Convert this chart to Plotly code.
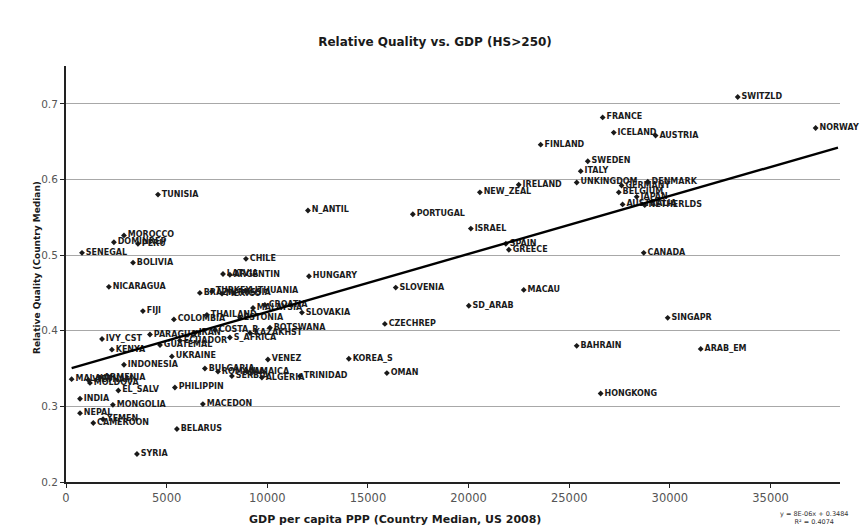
import plotly.graph_objects as go

# Country-level data: GDP per capita PPP (US$ 2008) and relative quality (HS>250)
countries = [
    "SWITZLD", "FRANCE", "ICELAND", "AUSTRIA", "NORWAY", "FINLAND", "SWEDEN", "ITALY",
    "IRELAND", "NEW_ZEAL", "UNKINGDOM", "GERMANY", "DENMARK", "BELGIUM", "JAPAN",
    "AUSTRALIA", "NETHERLDS", "CANADA", "SINGAPR", "BAHRAIN", "ARAB_EM", "HONGKONG",
    "N_ANTIL", "PORTUGAL", "ISRAEL", "SPAIN", "GREECE", "HUNGARY", "SLOVENIA", "MACAU",
    "SD_ARAB", "SLOVAKIA", "CZECHREP", "KOREA_S", "OMAN", "VENEZ", "MACEDON", "BELARUS",
    "SYRIA", "TUNISIA", "MOROCCO", "DOMINREP", "PERU", "SENEGAL", "BOLIVIA", "CHILE",
    "NICARAGUA", "FIJI", "COLOMBIA", "IVY_CST", "UKRAINE", "KENYA", "INDONESIA",
    "BULGARIA", "MALAWI", "VIETNAM", "MOLDOVA", "ARMENIA", "PHILIPPIN", "EL_SALV",
    "INDIA", "MONGOLIA", "NEPAL", "CAMEROON", "YEMEN", "LATVIA", "ARGENTIN", "BRAZIL",
    "TURKEY", "MEXICO", "RUSSIA", "LITHUANIA", "THAILAND", "MALAYSIA", "CROATIA",
    "ESTONIA", "IRAN", "COSTA_R", "S_AFRICA", "KAZAKHST", "BOTSWANA", "ECUADOR",
    "GUATEMAL", "PARAGUAY", "ROMANIA", "SERBIA", "JAMAICA", "ALGERIA", "TRINIDAD",
]
gdp = [
    33370, 26660, 27210, 29290, 37240, 23580, 25920, 25570,
    22490, 20560, 25370, 27600, 28900, 27460, 28350,
    27650, 28750, 28700, 29890, 25370, 31530, 26560,
    12020, 17230, 20110, 21850, 22000, 12070, 16380, 22740,
    20010, 11720, 15840, 14050, 15940, 10030, 6800, 5510,
    3525, 4570, 2880, 2380, 3575, 795, 3330, 8940,
    2130, 3820, 5360, 1790, 5260, 2280, 2880,
    6900, 280, 1110, 1190, 1690, 5410, 2600,
    695, 2330, 695, 1355, 1840, 7800, 8140, 6650,
    7250, 7750, 8340, 8940, 7000, 9290, 9880,
    8640, 6400, 7400, 8140, 9140, 10130, 5660,
    4670, 4170, 7550, 8240, 8990, 9730, 11620,
]
quality = [
    0.709, 0.682, 0.662, 0.658, 0.668, 0.646, 0.624, 0.611,
    0.593, 0.583, 0.596, 0.592, 0.597, 0.583, 0.577,
    0.567, 0.566, 0.503, 0.417, 0.380, 0.376, 0.317,
    0.559, 0.554, 0.535, 0.515, 0.507, 0.472, 0.457, 0.454,
    0.433, 0.424, 0.409, 0.363, 0.344, 0.362, 0.303, 0.270,
    0.237, 0.580, 0.526, 0.517, 0.515, 0.503, 0.490, 0.495,
    0.458, 0.426, 0.415, 0.389, 0.366, 0.375, 0.355,
    0.350, 0.336, 0.335, 0.331, 0.338, 0.325, 0.321,
    0.310, 0.302, 0.291, 0.278, 0.283, 0.475, 0.474, 0.450,
    0.452, 0.449, 0.450, 0.453, 0.421, 0.430, 0.434,
    0.417, 0.397, 0.401, 0.391, 0.397, 0.404, 0.387,
    0.381, 0.395, 0.346, 0.340, 0.346, 0.338, 0.340,
]

# Linear trend line (least-squares fit reported by the spreadsheet)
trend_slope = 7.66e-6
trend_intercept = 0.3484
trend_r2 = 0.4074
trend_x = [280, 38350]

x_ticks = [0, 5000, 10000, 15000, 20000, 25000, 30000, 35000]
y_ticks = [0.2, 0.3, 0.4, 0.5, 0.6, 0.7]

W, H = 861, 528
FONT = "DejaVu Sans, Verdana, sans-serif"
label_font = dict(family=FONT, size=8, color="#1a1a1a", weight="bold")

fig = go.Figure()

fig.add_trace(go.Scatter(
    x=gdp, y=quality, mode="markers+text",
    text=countries, textposition="middle right",
    textfont=label_font,
    marker=dict(symbol="diamond", size=4.5, color="#1a1a1a"),
    cliponaxis=False, showlegend=False, hoverinfo="text+x+y",
))

fig.add_trace(go.Scatter(
    x=trend_x, y=[trend_intercept + trend_slope * v for v in trend_x],
    mode="lines", line=dict(color="black", width=2.4),
    showlegend=False, hoverinfo="skip",
))

fig.update_layout(
    width=W, height=H,
    margin=dict(l=66, r=21, t=66, b=46),
    paper_bgcolor="white", plot_bgcolor="white",
    title=dict(
        text="Relative Quality vs. GDP (HS>250)",
        x=435 / W, xanchor="center", y=1 - 42 / H, yanchor="middle",
        font=dict(family=FONT, size=12, color="#1a1a1a", weight="bold"),
    ),
    xaxis=dict(
        range=[0, 38450], tickvals=x_ticks, ticktext=[str(v) for v in x_ticks],
        showgrid=False, zeroline=False,
        showline=True, linecolor="#222", linewidth=2,
        ticks="outside", ticklen=4, tickcolor="#222",
        tickfont=dict(family=FONT, size=11.5, color="#555"),
    ),
    yaxis=dict(
        range=[0.2, 0.75], tickvals=y_ticks, ticktext=[f"{v:.1f}" for v in y_ticks],
        showgrid=True, gridcolor="#a8a8a8", gridwidth=1, zeroline=False,
        showline=True, linecolor="#222", linewidth=2,
        ticks="outside", ticklen=4, tickcolor="#222",
        tickfont=dict(family=FONT, size=10.5, color="#555"),
    ),
)

fig.add_annotation(
    text="GDP per capita PPP (Country Median, US 2008)",
    xref="paper", yref="paper",
    x=(395 - 66) / (W - 87), y=-(519 - 482) / (H - 112),
    xanchor="center", yanchor="middle", showarrow=False,
    font=dict(family=FONT, size=11, color="#1a1a1a", weight="bold"),
)
fig.add_annotation(
    text="Relative Quality (Country Median)",
    xref="paper", yref="paper",
    x=-(66 - 37) / (W - 87), y=(482 - 268) / (H - 112),
    xanchor="center", yanchor="middle", textangle=-90, showarrow=False,
    font=dict(family=FONT, size=9, color="#1a1a1a", weight="bold"),
)
fig.add_annotation(
    text=f"y = {trend_slope:.0E}x + {trend_intercept:.4f}<br>R² = {trend_r2:.4f}",
    xref="paper", yref="paper",
    x=(814 - 66) / (W - 87), y=-(518 - 482) / (H - 112),
    xanchor="center", yanchor="middle", showarrow=False,
    font=dict(family=FONT, size=6.5, color="#333"),
)

fig.write_html("out.html")
